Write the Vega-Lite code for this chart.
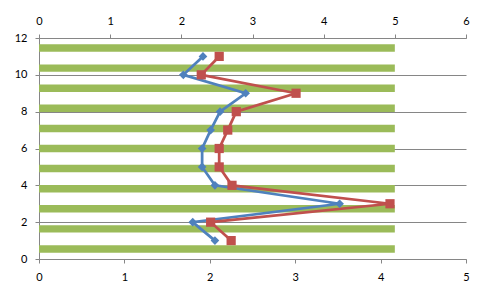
{
  "$schema": "https://vega.github.io/schema/vega-lite/v6.json",
  "width": 427,
  "height": 221,
  "autosize": "none",
  "padding": {"left": 39, "top": 38, "right": 25, "bottom": 38},
  "background": "white",
  "config": {
    "view": {"stroke": null},
    "font": "Lato",
    "axis": {
      "domainColor": "#868686",
      "tickColor": "#868686",
      "gridColor": "#868686",
      "domainWidth": 1,
      "tickWidth": 1,
      "gridWidth": 1,
      "tickSize": 4,
      "labelFont": "Lato",
      "labelFontSize": 11,
      "labelColor": "#000000",
      "labelPadding": 8,
      "labelFlush": false,
      "labelOverlap": false,
      "title": null
    }
  },
  "layer": [
    {
      "data": {
        "values": [
          {"cat": 1, "v": 5}, {"cat": 2, "v": 5}, {"cat": 3, "v": 5}, {"cat": 4, "v": 5},
          {"cat": 5, "v": 5}, {"cat": 6, "v": 5}, {"cat": 7, "v": 5}, {"cat": 8, "v": 5},
          {"cat": 9, "v": 5}, {"cat": 10, "v": 5}, {"cat": 11, "v": 5}
        ]
      },
      "mark": {"type": "bar", "color": "#9BBB59"},
      "encoding": {
        "x": {
          "field": "v", "type": "quantitative",
          "scale": {"domain": [0, 6], "nice": false, "zero": true},
          "axis": {"orient": "top", "values": [0, 1, 2, 3, 4, 5, 6], "grid": false}
        },
        "y": {
          "field": "cat", "type": "ordinal", "sort": "descending",
          "scale": {"paddingInner": 0.63, "paddingOuter": 0.315},
          "axis": null
        }
      }
    },
    {
      "data": {
        "values": [
          {"series": "A", "y": 1, "x": 2.06},
          {"series": "A", "y": 2, "x": 1.80},
          {"series": "A", "y": 3, "x": 3.52},
          {"series": "A", "y": 4, "x": 2.06},
          {"series": "A", "y": 5, "x": 1.91},
          {"series": "A", "y": 6, "x": 1.91},
          {"series": "A", "y": 7, "x": 2.01},
          {"series": "A", "y": 8, "x": 2.12},
          {"series": "A", "y": 9, "x": 2.42},
          {"series": "A", "y": 10, "x": 1.69},
          {"series": "A", "y": 11, "x": 1.92},
          {"series": "B", "y": 1, "x": 2.25},
          {"series": "B", "y": 2, "x": 2.01},
          {"series": "B", "y": 3, "x": 4.11},
          {"series": "B", "y": 4, "x": 2.26},
          {"series": "B", "y": 5, "x": 2.11},
          {"series": "B", "y": 6, "x": 2.11},
          {"series": "B", "y": 7, "x": 2.21},
          {"series": "B", "y": 8, "x": 2.31},
          {"series": "B", "y": 9, "x": 3.01},
          {"series": "B", "y": 10, "x": 1.90},
          {"series": "B", "y": 11, "x": 2.11}
        ]
      },
      "encoding": {
        "x": {
          "field": "x", "type": "quantitative",
          "scale": {"domain": [0, 5], "nice": false},
          "axis": {"orient": "bottom", "values": [0, 1, 2, 3, 4, 5], "grid": false}
        },
        "y": {
          "field": "y", "type": "quantitative",
          "scale": {"domain": [0, 12], "nice": false},
          "axis": {"orient": "left", "values": [0, 2, 4, 6, 8, 10, 12], "grid": true}
        },
        "color": {
          "field": "series", "type": "nominal",
          "scale": {"domain": ["A", "B"], "range": ["#4F81BD", "#C0504D"]},
          "legend": null
        },
        "order": {"field": "y", "type": "quantitative"}
      },
      "layer": [
        {"mark": {"type": "line", "strokeWidth": 2.75}},
        {
          "mark": {"type": "point", "filled": true, "opacity": 1},
          "encoding": {
            "shape": {
              "field": "series", "type": "nominal",
              "scale": {"domain": ["A", "B"], "range": ["diamond", "square"]},
              "legend": null
            },
            "size": {
              "field": "series", "type": "ordinal",
              "scale": {"domain": ["A", "B"], "range": [75, 85]},
              "legend": null
            }
          }
        }
      ]
    }
  ],
  "resolve": {
    "scale": {"x": "independent", "y": "independent"},
    "axis": {"x": "independent", "y": "independent"}
  }
}
